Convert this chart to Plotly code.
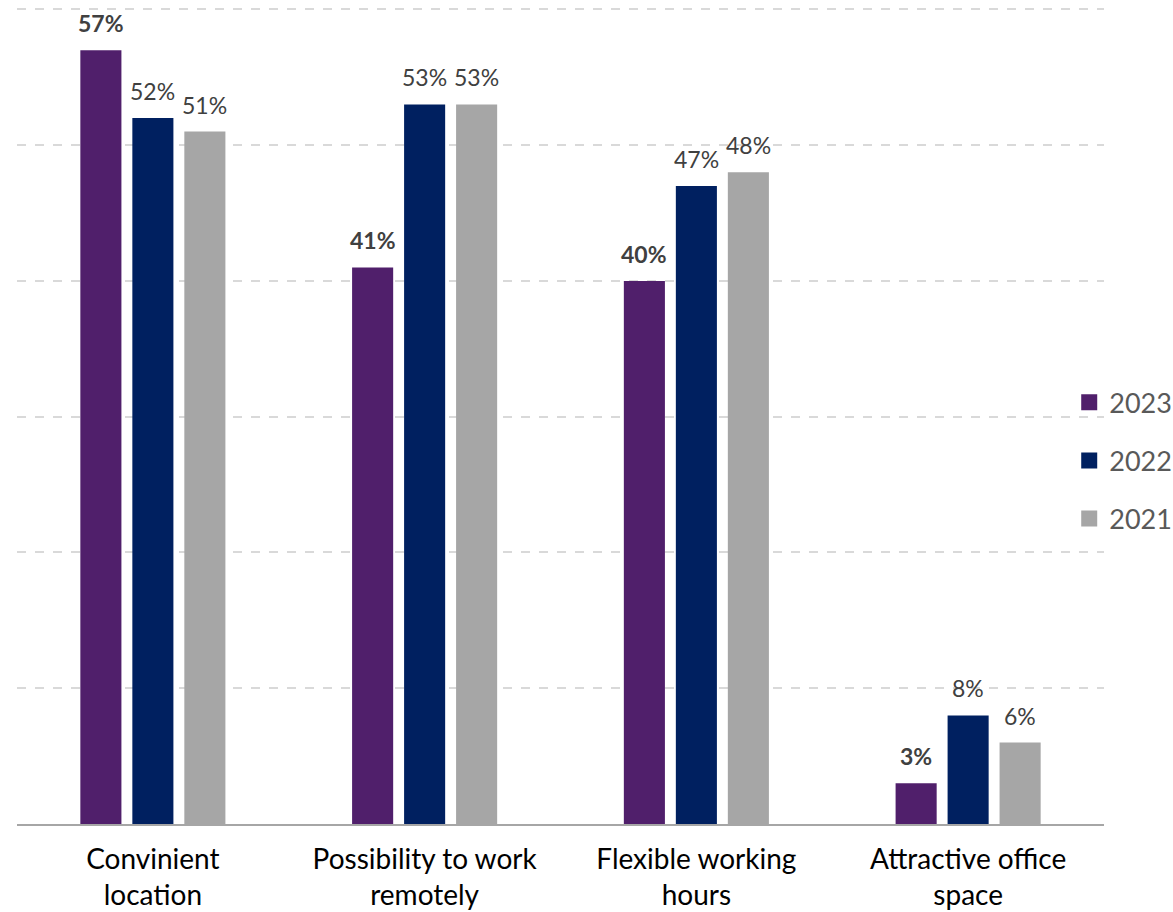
import plotly.graph_objects as go

categories = ["Convinient<br>location", "Possibility to work<br>remotely",
              "Flexible working<br>hours", "Attractive office<br>space"]
years = ["2023", "2022", "2021"]
values_2023 = [57, 41, 40, 3]
values_2022 = [52, 53, 47, 8]
values_2021 = [51, 53, 48, 6]
series = [values_2023, values_2022, values_2021]
colors = ["#501F6B", "#002060", "#A6A6A6"]

FONT = "Lato"

fig = go.Figure()
for i, (yr, vals, col) in enumerate(zip(years, series, colors)):
    fig.add_trace(go.Bar(
        x=categories, y=vals, name=yr, marker_color=col,
        marker_line_width=0, showlegend=False,
    ))
    # legend entry with a larger square swatch
    fig.add_trace(go.Scatter(
        x=[None], y=[None], mode="markers", name=yr, legendgroup=yr,
        marker=dict(symbol="square", size=18, color=col),
    ))

# value labels above each bar (2023 in bold)
pitch = 52
for i, vals in enumerate(series):
    for cat, v in zip(categories, vals):
        txt = f"<b>{v}%</b>" if i == 0 else f"{v}%"
        fig.add_annotation(
            x=cat, y=v, xref="x", yref="y", text=txt, showarrow=False,
            xshift=(i - 1) * pitch, yshift=11, yanchor="bottom",
            font=dict(family=FONT, size=23, color="#404040"),
        )

fig.update_layout(
    width=1173, height=912,
    margin=dict(l=17, r=69, t=4, b=88, autoexpand=False),
    plot_bgcolor="white", paper_bgcolor="white",
    barmode="group", bargap=0.426, bargroupgap=0.21,
    showlegend=True,
    legend=dict(
        x=0.968, xanchor="left", y=0.443, yanchor="middle",
        traceorder="grouped", tracegroupgap=20, itemsizing="trace",
        font=dict(family=FONT, size=27, color="#595959"),
        bgcolor="rgba(0,0,0,0)",
    ),
    font=dict(family=FONT),
)
fig.update_xaxes(
    showline=True, linecolor="#A6A6A6", linewidth=2,
    tickfont=dict(family=FONT, size=28, color="#000000"),
    ticks="", showgrid=False, ticklabelstandoff=9,
)
fig.update_yaxes(
    range=[0, 60.4], tickvals=[10, 20, 30, 40, 50, 60],
    showticklabels=False, zeroline=False,
    showgrid=True, gridcolor="#D9D9D9", griddash="dash", gridwidth=1.5,
)

fig.write_html("out.html")
